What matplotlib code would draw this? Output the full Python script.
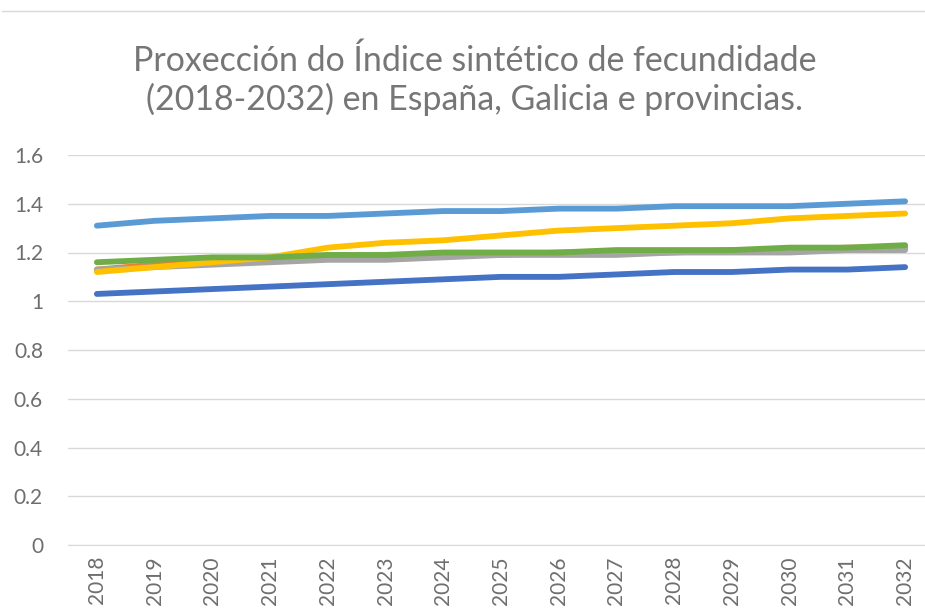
import matplotlib
matplotlib.use("Agg")
import matplotlib.pyplot as plt
from matplotlib.lines import Line2D

years = ["2018", "2019", "2020", "2021", "2022", "2023", "2024", "2025",
         "2026", "2027", "2028", "2029", "2030", "2031", "2032"]
serie_azul = [1.03, 1.04, 1.05, 1.06, 1.07, 1.08, 1.09, 1.10, 1.10, 1.11, 1.12, 1.12, 1.13, 1.13, 1.14]
serie_laranxa = [1.13, 1.15, 1.16, 1.17, 1.18, 1.18, 1.19, 1.19, 1.20, 1.20, 1.20, 1.21, 1.21, 1.22, 1.22]
serie_gris = [1.13, 1.14, 1.15, 1.16, 1.17, 1.17, 1.18, 1.19, 1.19, 1.19, 1.20, 1.20, 1.20, 1.21, 1.21]
serie_amarela = [1.12, 1.14, 1.16, 1.18, 1.22, 1.24, 1.25, 1.27, 1.29, 1.30, 1.31, 1.32, 1.34, 1.35, 1.36]
serie_celeste = [1.31, 1.33, 1.34, 1.35, 1.35, 1.36, 1.37, 1.37, 1.38, 1.38, 1.39, 1.39, 1.39, 1.40, 1.41]
serie_verde = [1.16, 1.17, 1.18, 1.18, 1.19, 1.19, 1.20, 1.20, 1.20, 1.21, 1.21, 1.21, 1.22, 1.22, 1.23]
yticks = [0, 0.2, 0.4, 0.6, 0.8, 1.0, 1.2, 1.4, 1.6]
ytick_labels = ["0", "0.2", "0.4", "0.6", "0.8", "1", "1.2", "1.4", "1.6"]
title = "Proxección do Índice sintético de fecundidade\n(2018-2032) en España, Galicia e provincias."

plt.rcParams['font.family'] = ['Lato', 'DejaVu Sans']

W, H = 925, 609
fig = plt.figure(figsize=(W / 100, H / 100), dpi=100)
fig.patch.set_facecolor("white")

left_px, right_px = 68, 934
top_px, bot_px = 155, 545
ax = fig.add_axes([left_px / W, 1 - bot_px / H, (right_px - left_px) / W, (bot_px - top_px) / H])

x = list(range(len(years)))
series = [
    (serie_azul, "#4472C4"),
    (serie_laranxa, "#ED7D31"),
    (serie_gris, "#A5A5A5"),
    (serie_amarela, "#FFC000"),
    (serie_celeste, "#5B9BD5"),
    (serie_verde, "#70AD47"),
]
for vals, col in series:
    ax.plot(x, vals, color=col, lw=4.2, solid_capstyle="round", solid_joinstyle="round", zorder=3)

ax.set_xlim(-0.5, len(years) - 0.5)
ax.set_ylim(0, 1.6)
ax.set_yticks(yticks)
ax.set_yticklabels(ytick_labels)
ax.set_xticks(x)
ax.set_xticklabels(years, rotation=90)
ax.grid(axis="y", color="#D9D9D9", lw=1.0, zorder=0)
ax.set_axisbelow(True)
for s in ax.spines.values():
    s.set_visible(False)
ax.spines["bottom"].set_visible(True)
ax.spines["bottom"].set_color("#D9D9D9")
ax.tick_params(axis="both", length=0, labelsize=15, labelcolor="#6E6E6E")
ax.tick_params(axis="y", pad=18)
ax.tick_params(axis="x", pad=8)

fig.text(475 / W, 1 - 80 / H, title, ha="center", va="center", fontsize=24.4,
         color="#767676", linespacing=1.2)

fig.add_artist(Line2D([2 / W, 1], [1 - 11 / H, 1 - 11 / H], color="#D9D9D9", lw=1))

fig.savefig("out.png", dpi=100, facecolor="white")
